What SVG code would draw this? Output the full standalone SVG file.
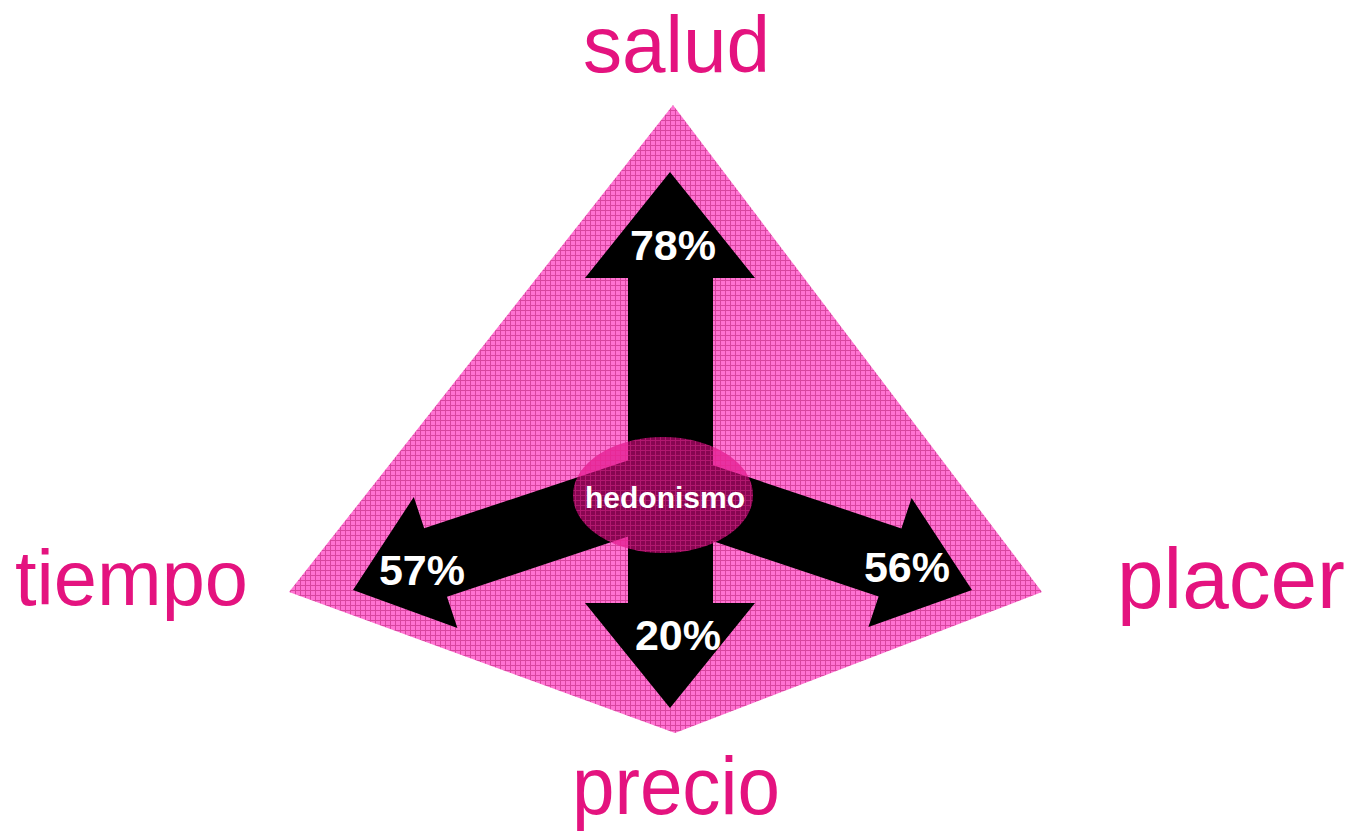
<svg xmlns="http://www.w3.org/2000/svg" width="1357" height="832" viewBox="0 0 1357 832">
<style>
.lbl{font-family:"Liberation Sans",Arial,sans-serif;fill:#e4137f;}
.pct{font-family:"Liberation Sans",Arial,sans-serif;font-weight:bold;font-size:43px;fill:#ffffff;text-anchor:middle;}
.arrow{fill:#000000;}
</style>
<defs>
<pattern id="grid" width="5" height="5" patternUnits="userSpaceOnUse">
<rect width="5" height="5" fill="#ff72d2"/>
<path d="M0 0.5H5M0.5 0V5" stroke="#d8459f" stroke-width="1"/>
</pattern>
<pattern id="gridlines" width="5" height="5" patternUnits="userSpaceOnUse">
<path d="M0 0.5H5M0.5 0V5" stroke="#ff3aa8" stroke-width="1"/>
</pattern>
</defs>
<rect width="1357" height="832" fill="#ffffff"/>
<g id="kite">
<polygon points="673,105 1042,592 675,733 289,592" fill="url(#grid)"/>
</g>
<g id="connectors">
<polygon class="arrow" points="670,172 755,278 713,278 713,603 755,603 670,708 585,603 628,603 628,278 585,278"/>
<polygon class="arrow" points="353,590 457.4,628 447,596.7 670,522.4 647.2,454 424.2,528.3 413.8,497"/>
<polygon class="arrow" points="972,590 911.6,498 901.4,528.4 678.6,453.7 655.8,521.9 878.6,596.6 868.4,627"/>
</g>
<g id="hedonismo">
<ellipse cx="663" cy="495" rx="90" ry="58" fill="#dc0a82" fill-opacity="0.62"/>
<ellipse cx="663" cy="495" rx="90" ry="58" fill="url(#gridlines)" opacity="0.35"/>
<text x="665" y="508" font-family="Liberation Sans, Arial, sans-serif" font-weight="bold" font-size="30" fill="#ffffff" text-anchor="middle" textLength="160" lengthAdjust="spacingAndGlyphs">hedonismo</text>
</g>
<g id="salud">
<text class="lbl" x="583" y="72" font-size="80" textLength="187" lengthAdjust="spacingAndGlyphs">salud</text>
<text class="pct" x="673" y="260">78%</text>
</g>
<g id="tiempo">
<text class="lbl" x="15" y="605" font-size="78" textLength="233" lengthAdjust="spacingAndGlyphs">tiempo</text>
<text class="pct" x="422" y="585">57%</text>
</g>
<g id="placer">
<text class="lbl" x="1117" y="608" font-size="86" textLength="228" lengthAdjust="spacingAndGlyphs">placer</text>
<text class="pct" x="907" y="582">56%</text>
</g>
<g id="precio">
<text class="lbl" x="572" y="814" font-size="82" textLength="208" lengthAdjust="spacingAndGlyphs">precio</text>
<text class="pct" x="678" y="650">20%</text>
</g>
</svg>
